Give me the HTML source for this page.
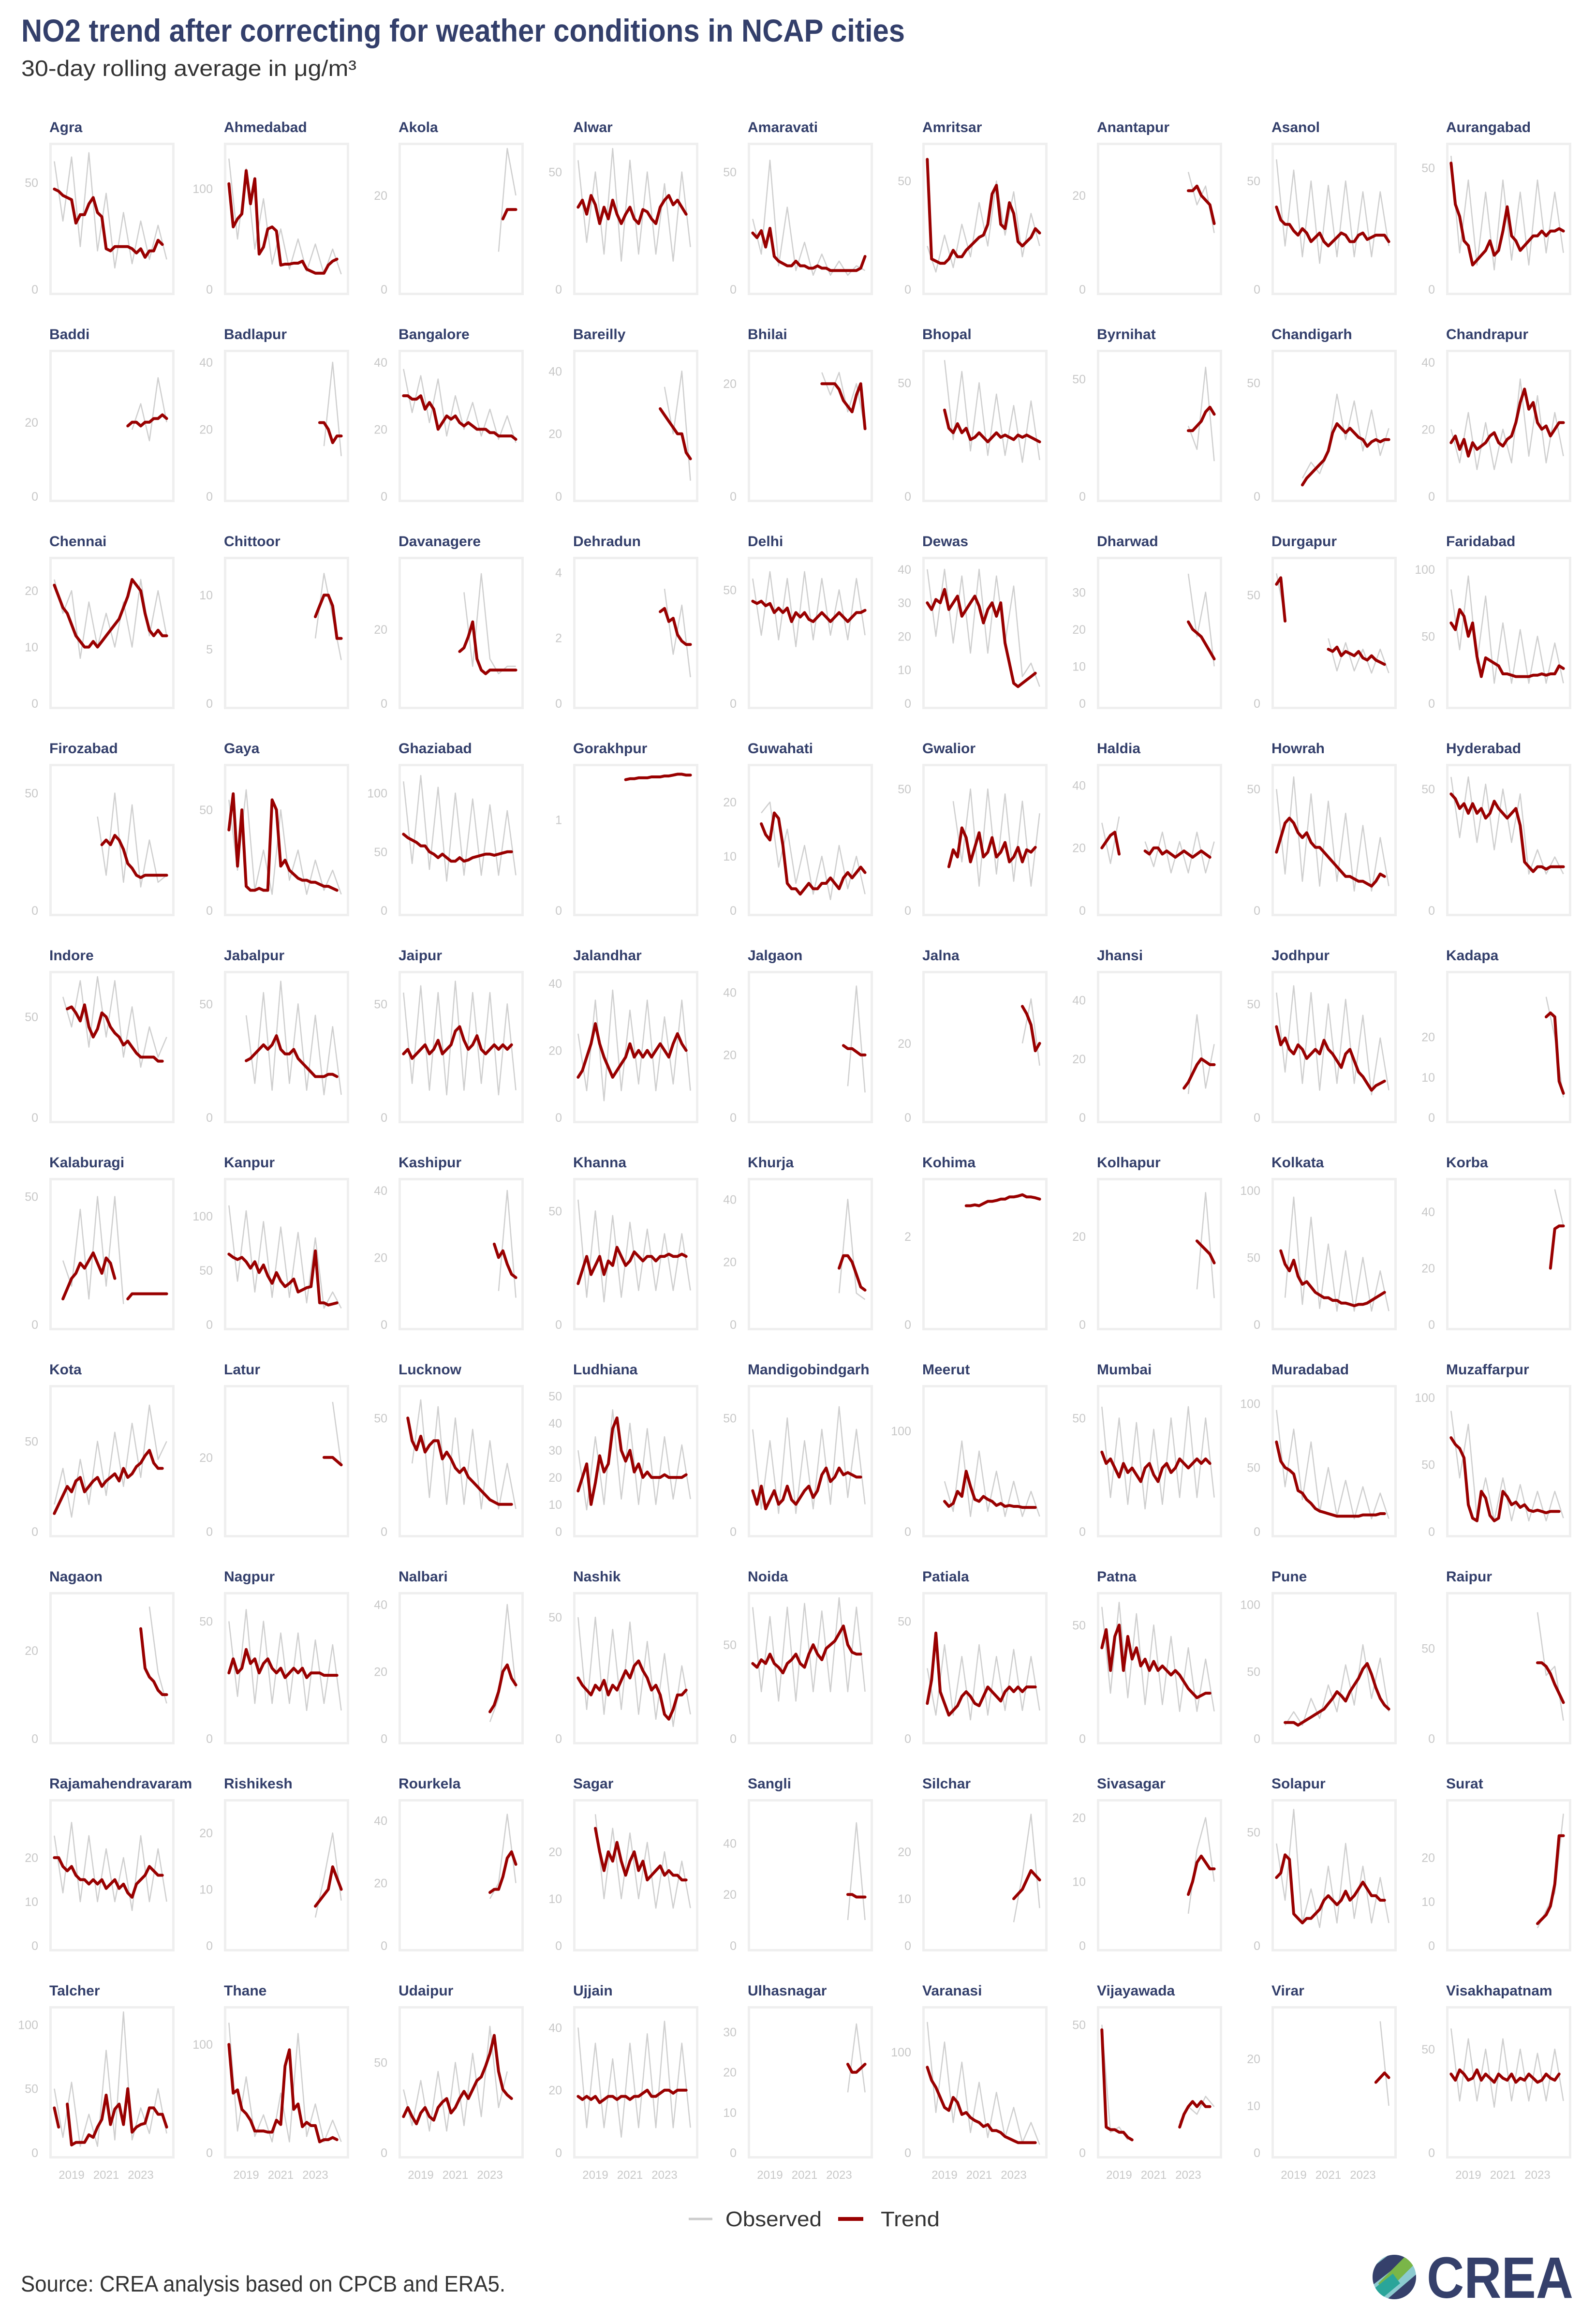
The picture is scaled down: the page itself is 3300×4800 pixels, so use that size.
<!DOCTYPE html>
<html><head><meta charset="utf-8"><title>NO2 trend NCAP cities</title>
<style>html,body{margin:0;padding:0;background:#fff;}svg{display:block;}</style></head>
<body>
<svg id="chart" xmlns="http://www.w3.org/2000/svg" width="3300" height="4800" viewBox="0 0 3300 4800" font-family="Liberation Sans, sans-serif">
<rect width="3300" height="4800" fill="#fff"/>
<text x="44" y="86" font-size="66" font-weight="bold" fill="#333f6b" textLength="1827" lengthAdjust="spacingAndGlyphs">NO2 trend after correcting for weather conditions in NCAP cities</text>
<text x="44" y="157" font-size="46" fill="#333" textLength="693" lengthAdjust="spacingAndGlyphs">30-day rolling average in μg/m³</text>
<g id="panels"></g>
<g>
<line x1="1424" y1="4587" x2="1473" y2="4587" stroke="#cccccc" stroke-width="5"/>
<text x="1500" y="4602" font-size="44" fill="#333" textLength="199" lengthAdjust="spacingAndGlyphs">Observed</text>
<line x1="1733" y1="4587" x2="1785" y2="4587" stroke="#990000" stroke-width="8"/>
<text x="1821" y="4602" font-size="44" fill="#333" textLength="122" lengthAdjust="spacingAndGlyphs">Trend</text>
</g>
<text x="43" y="4737" font-size="46" fill="#333" textLength="1002" lengthAdjust="spacingAndGlyphs">Source: CREA analysis based on CPCB and ERA5.</text>
<g>
<defs><clipPath id="logoclip"><ellipse cx="2883" cy="4707" rx="45" ry="46"/></clipPath></defs>
<g clip-path="url(#logoclip)">
<rect x="2830" y="4655" width="110" height="110" fill="#8ccbd0"/>
<polygon points="2820,4700 2900,4640 2920,4660 2830,4730" fill="#35406b"/>
<polygon points="2850,4720 2920,4650 2945,4660 2860,4745" fill="#7ab648"/>
<polygon points="2830,4740 2880,4700 2895,4720 2835,4770" fill="#2aa59a"/>
<polygon points="2860,4760 2930,4700 2945,4720 2870,4775" fill="#35406b"/>
<polygon points="2890,4760 2935,4725 2945,4750 2900,4775" fill="#2aa59a"/>
</g>
<text x="2950" y="4750" font-size="121" font-weight="bold" fill="#35406b" textLength="303" lengthAdjust="spacingAndGlyphs">CREA</text>
</g>
</svg>
<script>
const _ = null;
const cityNames = ["Agra","Ahmedabad","Akola","Alwar","Amaravati","Amritsar","Anantapur","Asanol","Aurangabad",
"Baddi","Badlapur","Bangalore","Bareilly","Bhilai","Bhopal","Byrnihat","Chandigarh","Chandrapur",
"Chennai","Chittoor","Davanagere","Dehradun","Delhi","Dewas","Dharwad","Durgapur","Faridabad",
"Firozabad","Gaya","Ghaziabad","Gorakhpur","Guwahati","Gwalior","Haldia","Howrah","Hyderabad",
"Indore","Jabalpur","Jaipur","Jalandhar","Jalgaon","Jalna","Jhansi","Jodhpur","Kadapa",
"Kalaburagi","Kanpur","Kashipur","Khanna","Khurja","Kohima","Kolhapur","Kolkata","Korba",
"Kota","Latur","Lucknow","Ludhiana","Mandigobindgarh","Meerut","Mumbai","Muradabad","Muzaffarpur",
"Nagaon","Nagpur","Nalbari","Nashik","Noida","Patiala","Patna","Pune","Raipur",
"Rajamahendravaram","Rishikesh","Rourkela","Sagar","Sangli","Silchar","Sivasagar","Solapur","Surat",
"Talcher","Thane","Udaipur","Ujjain","Ulhasnagar","Varanasi","Vijayawada","Virar","Visakhapatnam"];
const yMaxValues = [66,140,30,60,60,65,30,65,58,
38,42,42,45,25,62,60,62,42,
25,13,38,4.3,62,42,38,65,105,
60,70,120,1.55,26,58,45,58,58,
70,62,62,42,45,38,48,62,35,
55,130,42,62,45,3.2,32,105,50,
78,38,62,52,62,140,62,110,105,
32,60,42,58,75,60,62,105,78,
32,25,45,30,55,30,22,62,32,
110,130,78,45,35,140,55,30,68];
const yTicks = [[0,50],[0,100],[0,20],[0,50],[0,50],[0,50],[0,20],[0,50],[0,50],
[0,20],[0,20,40],[0,20,40],[0,20,40],[0,20],[0,50],[0,50],[0,50],[0,20,40],
[0,10,20],[0,5,10],[0,20],[0,2,4],[0,50],[0,10,20,30,40],[0,10,20,30],[0,50],[0,50,100],
[0,50],[0,50],[0,50,100],[0,1],[0,10,20],[0,50],[0,20,40],[0,50],[0,50],
[0,50],[0,50],[0,50],[0,20,40],[0,20,40],[0,20],[0,20,40],[0,50],[0,10,20],
[0,50],[0,50,100],[0,20,40],[0,50],[0,20,40],[0,2],[0,20],[0,50,100],[0,20,40],
[0,50],[0,20],[0,50],[0,10,20,30,40,50],[0,50],[0,100],[0,50],[0,50,100],[0,50,100],
[0,20],[0,50],[0,20,40],[0,50],[0,50],[0,50],[0,50],[0,50,100],[0,50],
[0,10,20],[0,10,20],[0,20,40],[0,10,20],[0,20,40],[0,10,20],[0,10,20],[0,50],[0,10,20],
[0,50,100],[0,100],[0,50],[0,20,40],[0,10,20,30],[0,100],[0,50],[0,10,20],[0,50]];
const yearTicks = [2019,2021,2023];
const trendStart = [2018,2018,2023.75,2018,2018,2018,2023,2018,2018,
2022.25,2023.25,2018,2022.75,2022,2019,2023,2019.5,2018,
2018,2023,2021.25,2022.75,2018,2018,2023,2018,2018,
2020.75,2018,2018,2020.75,2018.5,2019.25,2018,2018,2018,
2018.75,2019,2018,2018,2023.25,2023.5,2022.75,2018,2023.5,
2018.5,2018,2023.25,2018,2023,2020.25,2023.5,2018.25,2023.75,
2018,2023.5,2018.25,2018,2018,2019,2018,2018,2018,
2023,2018,2023,2018,2018,2018,2018,2018.5,2023,
2018,2023,2023,2019,2023.5,2023,2023,2018,2023,
2018,2018,2018,2018,2023.5,2018,2018,2023.75,2018];
const trendValues = [
[47,46,44,43,42,31,35,35,40,43,36,34,19,18,20,20,20,20,19,17,19,15,18,18,23,21],
[105,62,70,75,118,85,110,35,42,60,62,58,24,25,25,26,26,28,20,18,16,16,16,24,28,30],
[15,17,17,17],
[35,38,32,40,36,28,35,30,38,32,28,32,35,30,28,34,33,30,28,35,38,40,36,38,35,32],
[24,22,25,18,26,14,12,11,10,10,12,10,10,9,9,10,9,9,8,8,8,8,8,8,8,9,14],
[60,14,13,12,12,14,18,15,15,18,20,22,24,25,30,44,48,30,28,40,35,22,20,22,24,28,26],
[21,21,22,20,19,18,14],
[38,32,30,30,27,25,28,26,22,24,26,22,20,22,24,26,25,22,22,25,26,23,24,25,25,25,22],
[52,35,30,20,18,10,12,14,16,20,14,16,24,34,22,20,16,18,20,22,22,24,22,24,24,25,24],
[19,20,20,19,20,20,21,21,22,21],
[22,22,20,16,18,18],
[30,30,29,29,30,26,28,26,20,22,24,23,24,22,21,22,21,20,20,20,19,19,18,18,18,18,17],
[28,26,24,22,20,20,14,12],
[20,20,20,20,19,17,16,15,18,20,12],
[38,30,28,32,28,30,25,26,28,26,24,26,28,26,27,26,25,27,26,27,26,25,24],
[28,28,30,32,36,38,35],
[5,8,10,12,14,16,20,28,32,30,28,30,28,26,25,22,24,25,24,25,25],
[16,18,14,17,12,16,14,15,16,18,19,16,15,17,18,22,28,32,26,28,22,20,21,18,20,22,22],
[21,19,17,16,14,12,11,10,10,11,10,11,12,13,14,15,17,19,22,21,20,16,13,12,13,12,12],
[8,9,10,10,9,6,6],
[14,15,18,22,12,9,8,9,9,9,9,9,9,9],
[2.8,2.9,2.5,2.6,2.1,1.9,1.8,1.8],
[45,44,45,43,44,40,42,40,42,36,40,38,40,37,36,38,40,38,36,38,40,38,36,38,40,40,41],
[30,28,31,30,34,28,30,32,26,28,30,32,29,24,28,30,26,30,18,12,6,5,6,7,8,9],
[22,20,19,18,16,14,12],
[55,58,38,_,_,_,_,_,_,_,_,_,25,24,26,22,24,23,22,24,21,20,22,20,19,18],
[60,55,70,65,50,60,35,20,34,32,30,28,22,22,21,20,20,20,20,21,21,22,21,22,22,28,26],
[28,30,28,32,30,26,20,18,15,14,15,15,15,15,15,15],
[40,58,22,50,12,10,10,11,10,10,55,50,22,25,20,18,16,15,15,14,14,13,12,12,11,10],
[65,62,60,58,55,55,50,48,45,48,45,42,42,45,42,43,45,46,47,48,48,47,48,49,50,50],
[1.44,1.45,1.45,1.46,1.46,1.46,1.47,1.47,1.47,1.48,1.48,1.49,1.50,1.50,1.49,1.49],
[16,14,13,18,17,12,5,4,4,3,4,5,4,4,5,5,6,5,4,6,7,6,7,8,7],
[18,25,22,34,30,20,26,32,22,24,30,22,24,28,20,22,26,20,25,24,26],
[20,22,24,25,18,_,_,_,_,_,19,18,20,20,18,19,18,17,18,19,18,17,18,19,18,17],
[24,30,36,38,36,32,30,32,28,26,26,24,22,20,18,16,14,14,13,12,12,11,10,12,15,14],
[48,46,42,44,40,44,40,42,38,40,45,42,40,38,40,42,35,20,18,16,18,18,17,18,18,18,18],
[54,55,52,48,56,45,40,44,52,50,45,42,40,36,38,35,32,30,30,30,30,28,28],
[25,26,28,30,32,30,32,36,30,28,28,30,26,24,22,20,18,18,18,19,19,18],
[28,30,26,28,30,32,28,30,34,28,30,32,38,40,34,30,32,36,30,28,30,32,30,32,30,32],
[12,14,18,22,28,22,18,15,12,14,16,18,22,18,20,18,20,18,20,22,20,18,22,25,22,20],
[23,22,22,21,20,20],
[30,28,25,18,20],
[10,12,15,18,20,19,18,18],
[40,32,35,30,28,32,30,26,28,30,28,34,30,28,25,22,28,30,25,20,18,15,12,14,15,16],
[25,26,25,9,6],
[10,14,18,20,24,22,25,28,24,20,26,24,18,_,_,10,12,12,12,12,12,12,12,12,12],
[65,62,60,62,58,52,58,48,55,45,38,48,40,35,38,42,30,32,34,35,68,20,20,18,19,20],
[24,20,22,18,15,14],
[18,24,30,22,26,30,22,28,26,34,30,26,28,32,30,28,30,30,28,30,30,31,30,30,31,30],
[18,22,22,20,16,12,11],
[2.7,2.7,2.72,2.7,2.75,2.8,2.8,2.82,2.85,2.85,2.9,2.9,2.92,2.95,2.9,2.9,2.88,2.85],
[19,18,17,16,14],
[55,45,40,48,36,30,32,28,24,22,20,20,18,18,16,16,15,14,15,15,16,18,20,22,24],
[20,34,35,35],
[10,15,20,25,22,28,30,22,25,28,30,25,28,30,32,28,35,30,32,36,38,42,45,38,35,35],
[20,20,20,19,18],
[50,40,36,42,35,38,40,40,32,35,32,28,26,28,24,22,20,18,16,14,13,12,12,12,12],
[15,20,25,10,18,28,22,25,38,42,30,26,30,22,25,20,22,20,20,20,21,20,20,20,20,21],
[18,12,20,10,14,18,12,14,20,14,12,15,18,20,15,18,25,28,22,24,28,25,26,25,24,24],
[30,25,28,40,35,60,45,32,30,35,32,30,26,28,25,26,25,25,24,24,24,24],
[35,30,32,28,24,30,26,28,25,22,28,30,25,22,28,30,26,28,32,30,28,30,32,30,32,30],
[70,55,50,48,45,32,30,25,22,18,16,15,14,13,12,12,12,12,12,12,13,13,13,13,14,14],
[70,65,62,55,20,10,8,30,25,12,8,10,30,26,20,22,18,20,16,15,16,15,14,15,15,15],
[25,16,14,13,11,10,10],
[28,34,28,30,38,32,34,28,32,34,30,28,30,26,28,30,28,30,26,28,28,28,27,27,27,27],
[8,10,14,20,22,18,16],
[25,22,20,18,22,20,24,18,22,20,24,28,25,30,32,28,25,20,22,18,10,8,12,18,18,20],
[40,38,42,40,45,40,38,35,40,42,45,40,38,45,50,45,42,48,50,52,56,60,50,46,45,45],
[15,25,45,20,15,10,12,14,18,20,18,15,14,18,22,20,18,16,20,22,20,22,20,22,22,22],
[40,48,30,45,50,30,45,35,40,32,35,30,34,30,32,30,28,30,28,25,22,20,18,19,20,20],
[12,12,12,10,12,14,16,18,20,22,26,30,35,32,28,35,40,45,52,56,48,38,30,25,22],
[42,42,40,36,30,25,20],
[20,20,18,17,18,16,15,15,14,15,14,15,13,14,15,13,14,12,11,14,15,16,18,17,16,16],
[7,8,9,10,14,12,10],
[17,18,18,22,28,30,26],
[25,20,16,20,18,22,18,15,18,20,16,18,14,15,16,17,15,16,15,15,14,14],
[20,20,19,19,19],
[10,11,12,14,16,15,14],
[8,10,13,14,13,12,12],
[30,32,40,38,14,12,10,12,12,14,16,20,22,20,18,20,24,20,22,25,28,25,22,22,20,20],
[5,6,7,9,14,25,25],
[35,20,_,38,6,8,8,8,14,12,20,26,45,22,34,38,22,50,16,20,22,23,35,35,30,30,20],
[100,55,58,40,36,30,20,20,20,19,19,30,26,80,95,40,45,24,28,25,25,10,12,12,14,12],
[20,25,20,16,22,25,20,18,25,28,30,22,25,30,34,30,35,40,42,48,55,65,45,35,32,30],
[18,17,18,17,18,16,17,18,18,17,18,18,17,18,18,19,20,18,18,19,20,20,19,20,20,20],
[22,20,20,21,22],
[85,72,65,55,45,42,55,50,38,40,35,32,30,26,28,22,22,20,16,14,12,10,10,10,10,10],
[48,10,9,9,8,8,6,5,_,_,_,_,_,_,_,_,_,_,10,15,18,20,18,20,18,18],
[15,16,17,16],
[38,35,40,38,35,36,40,35,38,36,34,38,36,35,38,34,36,35,38,36,34,35,38,36,35,38]];
const obsStart = [2018,2018,2023.5,2018,2018,2018,2023,2018,2018,
2022.5,2023.5,2018,2023,2022,2019,2023,2019.5,2018,
2018,2023,2021.5,2023,2018,2018,2023,2018,2018,
2020.5,2018,2018,2020.5,2018.5,2019.5,2018,2018,2018,
2018.5,2019,2018,2018,2023.5,2023.5,2023,2018,2023.5,
2018.5,2018,2023.5,2018,2023,2020,2023.5,2018.5,2024,
2018,2024,2018.5,2018,2018,2019,2018,2018,2018,
2023.5,2018,2023,2018,2018,2018,2018,2018.5,2023,
2018,2023,2023,2019,2023.5,2023,2023,2018,2023,
2018,2018,2018,2018,2023.5,2018,2018,2024,2018];
const obsValues = [
[60,32,62,20,64,18,45,10,36,12,32,14,30,14],
[130,50,120,40,90,25,60,20,50,18,45,15,40,15],
[8,30,20],
[55,20,50,15,60,12,55,15,50,15,45,12,50,18],
[30,15,55,10,35,8,20,6,15,6,12,6,10,8],
[20,8,25,10,30,15,40,20,50,25,45,15,35,20],
[25,18,22,12],
[60,20,55,15,50,12,48,15,50,15,45,15,45,20],
[55,15,45,10,40,8,45,12,40,10,45,15,40,15],
[18,25,15,32,20],
[15,40,12],
[38,25,36,22,35,18,30,20,28,18,26,17,24,16],
[35,20,40,5],
[22,18,22,15,20,12],
[60,25,55,20,50,18,45,18,40,15,42,16],
[30,20,55,15],
[8,15,10,20,45,25,42,20,38,18,30],
[20,10,25,8,22,8,20,10,35,12,30,10,25,12],
[22,16,20,8,18,10,16,10,18,10,22,12,20,12],
[6,12,8,4],
[30,10,35,12,8,10,10],
[3.5,1.5,3.0,0.8],
[55,30,58,28,55,25,58,28,55,30,50,28,55,30],
[40,20,40,18,38,15,40,15,38,18,35,8,12,5],
[35,18,30,10],
[60,40,_,_,_,_,30,15,28,15,25,14,25,14],
[85,40,95,30,80,15,60,15,55,15,50,15,45,15],
[40,15,50,12,45,10,30,12,15],
[55,20,60,10,30,8,50,15,30,8,25,10,20,8],
[110,40,115,35,105,25,100,30,95,30,90,30,85,30],
[],
[18,20,8,15,5,12,3,10,2,12,4,10,3],
[45,20,50,10,50,15,48,12,45,10,40],
[28,15,30,_,_,22,14,25,12,22,12,25,12,22],
[50,15,55,12,48,10,45,12,40,8,35,8,30,10],
[55,30,55,28,52,25,50,28,48,15,25,15,22,15],
[60,45,68,35,70,40,68,30,55,25,45,30,40],
[45,15,55,12,60,15,50,12,45,10,40,10],
[55,15,58,12,55,10,60,12,55,15,55,10,50,12],
[25,8,35,5,38,8,32,10,35,8,30,10,35,8],
[10,42,8],
[20,32,14],
[8,35,10,25],
[55,20,58,15,55,12,50,15,52,15,45,10,35,12],
[30,20,5],
[25,15,45,10,50,15,50,8,_,_,12,12,12],
[110,40,105,30,95,25,90,25,85,20,80,15,30,15],
[10,40,8],
[55,12,50,10,48,12,45,15,42,15,40,15,40,15],
[10,40,10,8],
[],
[8,30,6],
[20,95,15,80,12,60,10,55,10,50,10,40,10],
[48,35],
[15,35,8,40,15,50,20,55,25,60,30,70,40,50],
[35,18],
[30,58,15,55,12,50,12,45,10,40,10,30,10],
[30,8,35,10,45,12,40,10,38,10,35,12,32,12],
[45,10,40,8,50,8,40,10,45,12,55,15,45,12],
[50,20,90,15,80,20,60,15,50,15,40,15],
[55,15,50,12,48,10,45,12,50,15,55,15,50,15],
[95,35,80,25,70,15,50,12,40,10,35,10,30,10],
[90,40,80,10,40,8,40,8,35,8,30,8,30,10],
[30,15,8],
[50,18,55,15,50,15,45,15,45,12,42,15,40,12],
[5,12,40,15],
[50,12,50,10,45,12,48,10,40,8,35,5,30,10],
[70,25,65,20,70,20,72,25,68,25,75,25,70,25],
[30,10,40,10,35,8,40,10,35,12,38,12,35,12],
[58,20,60,18,55,15,50,15,45,12,40,12,35,12],
[10,20,10,30,15,40,20,55,25,70,30,60,20],
[70,35,40,10],
[25,12,28,10,25,10,22,10,20,8,25,10,22,10],
[5,12,20,8],
[15,20,42,20],
[28,10,25,10,24,10,22,8,20,8,18,8],
[10,48,10],
[5,15,28,8],
[5,15,20,10],
[45,20,60,10,25,8,35,10,45,12,35,10,30,10],
[4,8,12,30],
[50,12,55,5,30,5,80,10,110,10,35,15,50,15],
[120,20,70,15,35,10,55,10,110,15,45,10,30,10],
[35,15,40,12,45,12,50,15,55,20,70,25,45],
[40,8,35,8,30,5,35,8,38,8,42,8,35,8],
[15,32,15],
[130,40,110,30,90,20,70,15,60,15,45,10,30,8],
[50,8,10,5,_,_,_,_,_,12,18,15,22,18],
[28,10],
[60,25,55,25,50,22,55,25,50,25,48,25,50,25]];

const NS = "http://www.w3.org/2000/svg";
const TREND_STEP = 0.25, OBS_STEP = 0.5;
const COLS = 9, BOX_W = 259, BOX_H = 315, COL_PITCH = 361, ROW_PITCH = 428, LEFT0 = 102, TOP0 = 295;
const panelsG = document.getElementById('panels');
function mk(tag, attrs, parent) {
  const el = document.createElementNS(NS, tag);
  for (const k in attrs) el.setAttribute(k, attrs[k]);
  parent.appendChild(el);
  return el;
}
function pathFor(start, step, vals, xs, ys) {
  let d = "", pen = false;
  vals.forEach((v, j) => {
    if (v === null || v === undefined) { pen = false; return; }
    const px = xs(start + j * step).toFixed(1), py = ys(v).toFixed(1);
    d += (pen ? "L" : "M") + px + " " + py;
    pen = true;
  });
  return d;
}
const nRows = Math.ceil(cityNames.length / COLS);
cityNames.forEach((name, i) => {
  const r = Math.floor(i / COLS), c = i % COLS;
  const bx = LEFT0 + c * COL_PITCH, by = TOP0 + r * ROW_PITCH;
  const slug = name.toLowerCase();
  const g = mk('g', {}, panelsG);
  
  
  const xs = t => bx + 46 + (t - 2019) * 35.75;
  const ys = v => by + BOX_H - 12 - v / yMaxValues[i] * (BOX_H - 24);
  const label = mk('text', {x: bx, y: by - 22, 'font-size': 30, 'font-weight': 'bold', fill: '#333f6b'}, g);
  label.textContent = name;
  
  
  const box = mk('rect', {x: bx + 2.5, y: by + 2.5, width: BOX_W - 5, height: BOX_H - 5, fill: 'none', stroke: '#efefef', 'stroke-width': 5}, g);
  
  
  yTicks[i].forEach(tv => {
    const tl = mk('text', {x: bx - 23, y: ys(tv) + 9, 'font-size': 25, fill: '#c8c8c8', 'text-anchor': 'end'}, g);
    tl.textContent = tv;
    
    
  });
  if (r === nRows - 1) {
    yearTicks.forEach(yr => {
      const xl = mk('text', {x: xs(yr), y: by + BOX_H + 42, 'font-size': 24, fill: '#c8c8c8', 'text-anchor': 'middle'}, g);
      xl.textContent = yr;
      
      
    });
  }
  const od = pathFor(obsStart[i], OBS_STEP, obsValues[i], xs, ys);
  if (od) {
    const op = mk('path', {d: od, fill: 'none', stroke: '#cfcfcf', 'stroke-width': 2.5, 'stroke-linejoin': 'round'}, g);
    
    
  }
  const td = pathFor(trendStart[i], TREND_STEP, trendValues[i], xs, ys);
  if (td) {
    const tp = mk('path', {d: td, fill: 'none', stroke: '#990000', 'stroke-width': 6, 'stroke-linejoin': 'round', 'stroke-linecap': 'round'}, g);
    
    
  }
});
</script>
</body></html>
